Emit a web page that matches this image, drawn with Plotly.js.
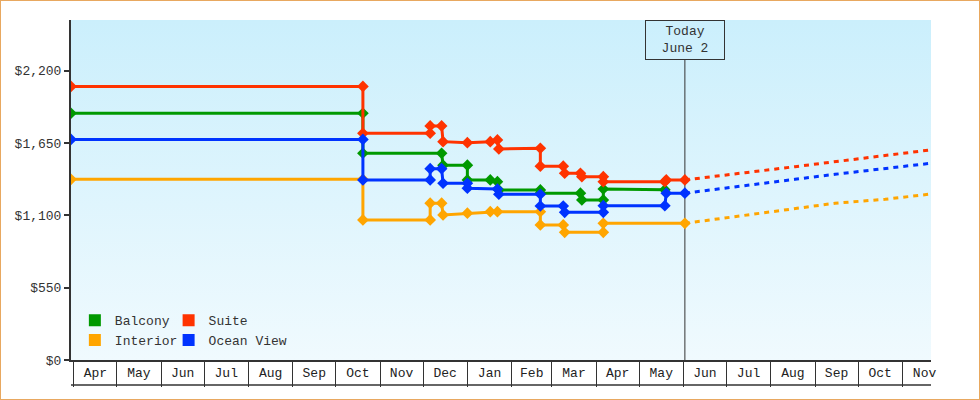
<!DOCTYPE html>
<html>
<head>
<meta charset="utf-8">
<script src="https://cdn.plot.ly/plotly-3.0.1.min.js"></script>
<style>
  html, body { margin: 0; padding: 0; background: #fff; }
  #chart { width: 978px; height: 398px; border: 1px solid #e8a860; }
</style>
</head>
<body>
<div id="chart"></div>
<script>
// ---- data ----
const seriesNames = ['Balcony', 'Suite', 'Interior', 'Ocean View'];
const seriesColors = ['#009900', '#ff3300', '#ffa500', '#0033ff'];

const balconyDates = ['2024-03-30','2024-10-20','2024-10-20','2024-12-14','2024-12-15','2025-01-01','2025-01-01','2025-01-17','2025-01-22','2025-01-23','2025-02-21','2025-02-21','2025-03-21','2025-03-22','2025-04-06','2025-04-06','2025-05-19'];
const balconyPrices = [1876,1876,1572,1572,1481,1481,1369,1369,1356,1293,1293,1268,1268,1217,1217,1300,1295];

const suiteDates = ['2024-03-30','2024-10-20','2024-10-20','2024-12-06','2024-12-06','2024-12-14','2024-12-15','2025-01-01','2025-01-17','2025-01-22','2025-01-23','2025-02-21','2025-02-21','2025-03-09','2025-03-10','2025-03-21','2025-03-22','2025-04-06','2025-04-06','2025-05-19','2025-05-20','2025-06-02'];
const suitePrices = [2080,2080,1724,1724,1780,1780,1660,1652,1660,1673,1605,1610,1474,1474,1420,1420,1394,1394,1356,1356,1369,1369];

const interiorDates = ['2024-03-30','2024-10-20','2024-10-20','2024-12-06','2024-12-06','2024-12-14','2024-12-15','2025-01-01','2025-01-17','2025-01-22','2025-02-21','2025-02-21','2025-03-09','2025-03-10','2025-04-06','2025-04-06','2025-06-02'];
const interiorPrices = [1374,1374,1065,1065,1192,1192,1103,1116,1128,1128,1128,1027,1027,971,971,1039,1039];

const oceanDates = ['2024-03-30','2024-10-20','2024-10-20','2024-12-06','2024-12-06','2024-12-14','2024-12-15','2025-01-01','2025-01-01','2025-01-22','2025-01-23','2025-02-21','2025-02-21','2025-03-09','2025-03-10','2025-04-06','2025-04-06','2025-05-19','2025-05-20','2025-06-02'];
const oceanPrices = [1677,1677,1369,1369,1455,1455,1344,1344,1306,1300,1260,1260,1171,1171,1123,1123,1173,1173,1268,1268];

// forecast (dashed) after today
const forecastDates = ['2025-06-02','2025-06-16','2025-07-14','2025-08-18','2025-09-15','2025-10-20','2025-11-21'];
const suiteForecast = [1369,1386,1424,1470,1508,1554,1598];
const interiorForecast = [1039,1059,1100,1151,1192,1222,1262];
const oceanForecast = [1268,1288,1323,1374,1412,1455,1496];

const todayDate = '2025-06-02';
const todayLabel = 'Today<br>June 2';
const xRange = ['2024-03-30', '2025-11-21'];
const yRange = [0, 2585];
const yTickVals = [0, 550, 1100, 1650, 2200];

// ---- chart ----
const FONT = '"Liberation Mono", "DejaVu Sans Mono", monospace';
const TXT = '#333333';

function hist(name, dates, prices, color) {
  return {
    type: 'scatter', mode: 'lines+markers', name: name, x: dates, y: prices,
    line: { color: color, width: 3 },
    marker: { color: color, symbol: 'diamond', size: 9 },
    showlegend: false, hoverinfo: 'x+y'
  };
}
function fc(name, prices, color) {
  return {
    type: 'scatter', mode: 'lines', name: name + ' forecast', x: forecastDates, y: prices,
    line: { color: color, width: 3, dash: '5px,5px' },
    showlegend: false, hoverinfo: 'x+y'
  };
}
function leg(i, which) {
  return {
    type: 'scatter', mode: 'markers', name: seriesNames[i], x: [null], y: [null],
    marker: { color: seriesColors[i], symbol: 'square', size: 12 },
    showlegend: true, legend: which
  };
}

const traces = [
  hist('Balcony', balconyDates, balconyPrices, seriesColors[0]),
  hist('Suite', suiteDates, suitePrices, seriesColors[1]),
  hist('Interior', interiorDates, interiorPrices, seriesColors[2]),
  hist('Ocean View', oceanDates, oceanPrices, seriesColors[3]),
  fc('Suite', suiteForecast, seriesColors[1]),
  fc('Interior', interiorForecast, seriesColors[2]),
  fc('Ocean View', oceanForecast, seriesColors[3]),
  leg(0, 'legend'), leg(2, 'legend'),
  leg(1, 'legend2'), leg(3, 'legend2')
];

const gradSvg = "<svg xmlns='http://www.w3.org/2000/svg' width='10' height='100' preserveAspectRatio='none'>" +
  "<defs><linearGradient id='g' x1='0' y1='0' x2='0' y2='1'>" +
  "<stop offset='0' stop-color='#cbeffc'/><stop offset='1' stop-color='#f0fafe'/>" +
  "</linearGradient></defs><rect width='10' height='100' fill='url(#g)'/></svg>";

const plotH = 340;
const legendCommon = {
  orientation: 'v', bgcolor: 'rgba(0,0,0,0)', borderwidth: 0,
  font: { family: FONT, size: 13, color: TXT },
  itemwidth: 30, tracegroupgap: 0, yanchor: 'top', xanchor: 'left'
};

const layout = {
  width: 978, height: 398,
  margin: { l: 70, r: 48, t: 19, b: 39 },
  paper_bgcolor: '#ffffff',
  plot_bgcolor: 'rgba(0,0,0,0)',
  font: { family: FONT, size: 13, color: TXT },
  hovermode: false,
  xaxis: {
    type: 'date', range: xRange, showgrid: false, zeroline: false,
    showline: true, linecolor: TXT, linewidth: 2,
    ticks: 'outside', ticklen: 25, tickwidth: 1, tickcolor: TXT,
    dtick: 'M1', tick0: '2024-04-01', tickformat: '%b',
    ticklabelmode: 'period', ticklabelstandoff: -26,
    tickfont: { family: FONT, size: 13, color: '#222' }
  },
  yaxis: {
    range: yRange, showgrid: false, zeroline: false,
    showline: true, linecolor: TXT, linewidth: 2,
    ticks: 'outside', ticklen: 5, tickwidth: 2, tickcolor: TXT,
    tickmode: 'array', tickvals: yTickVals,
    tickformat: '$,d',
    tickfont: { family: FONT, size: 13, color: TXT }
  },
  legend: Object.assign({}, legendCommon, { x: 0.0045, y: 0.161 }),
  legend2: Object.assign({}, legendCommon, { x: 0.1135, y: 0.161 }),
  images: [{
    source: 'data:image/svg+xml;charset=utf-8,' + encodeURIComponent(gradSvg),
    xref: 'paper', yref: 'paper', x: 0, y: 1, sizex: 1, sizey: 1,
    xanchor: 'left', yanchor: 'top', sizing: 'stretch', layer: 'below'
  }],
  shapes: [
    { type: 'line', xref: 'x', yref: 'paper', x0: todayDate, x1: todayDate, y0: 0, y1: 300 / plotH,
      line: { color: TXT, width: 1 }, layer: 'below' },
    { type: 'line', xref: 'paper', yref: 'paper', x0: 0, x1: 1, y0: -25 / plotH, y1: -25 / plotH,
      line: { color: TXT, width: 1.5 } }
  ],
  annotations: [{
    x: todayDate, xref: 'x', y: 1, yref: 'paper', xanchor: 'center', yanchor: 'top',
    text: todayLabel, showarrow: false, align: 'center',
    font: { family: FONT, size: 13, color: TXT },
    bordercolor: TXT, borderwidth: 1, borderpad: 2, width: 74, height: 34,
    bgcolor: 'rgba(0,0,0,0)'
  }]
};

Plotly.newPlot('chart', traces, layout, { displayModeBar: false, staticPlot: true });
</script>
</body>
</html>
